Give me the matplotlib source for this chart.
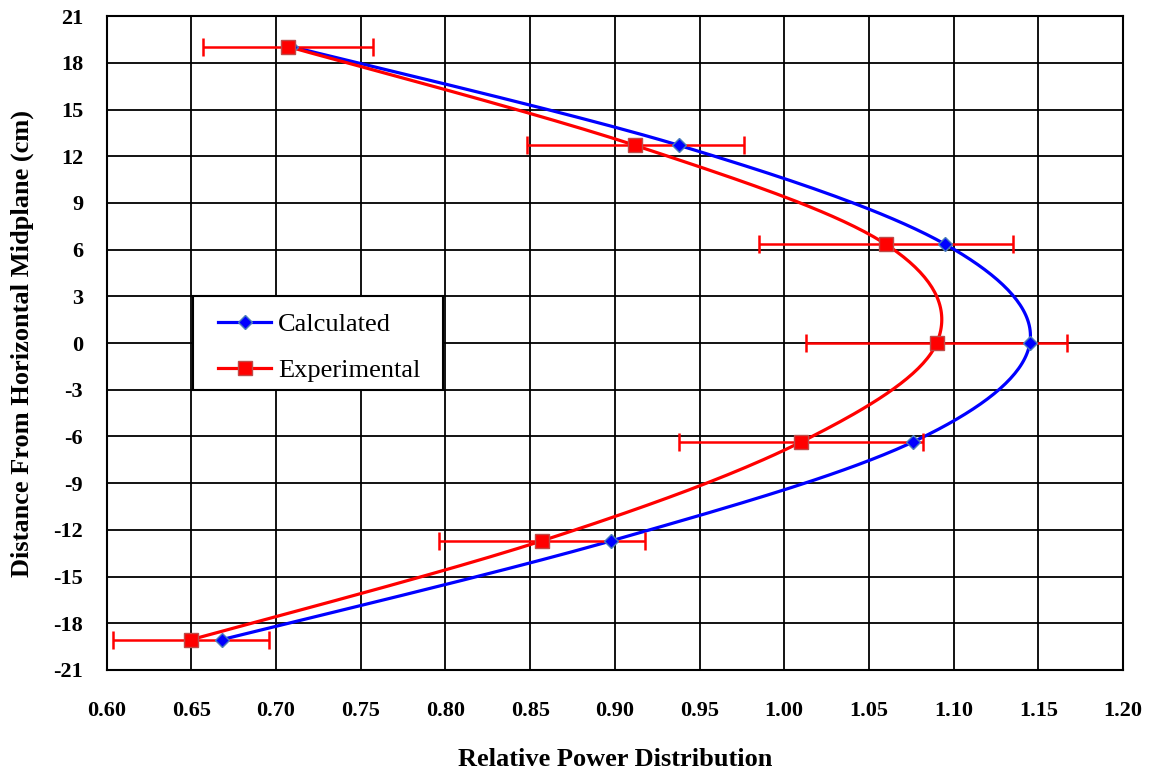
import matplotlib
matplotlib.use("Agg")
import matplotlib.pyplot as plt
from matplotlib.patches import Rectangle
import numpy as np

# data
height = [19.05, 12.7, 6.35, 0.0, -6.35, -12.7, -19.05]
calculated = [0.709, 0.938, 1.095, 1.145, 1.076, 0.898, 0.668]
experimental = [0.707, 0.912, 1.060, 1.090, 1.010, 0.857, 0.650]
exp_err = [0.050, 0.064, 0.075, 0.077, 0.072, 0.061, 0.046]

x_ticks = [0.60, 0.65, 0.70, 0.75, 0.80, 0.85, 0.90, 0.95, 1.00, 1.05, 1.10, 1.15, 1.20]
y_ticks = list(range(-21, 22, 3))

plt.rcParams['font.family'] = ['Liberation Serif', 'DejaVu Serif']
plt.rcParams['axes.unicode_minus'] = False


# Excel-style smoothed line (uniform Catmull-Rom / Bezier through the points)
def smooth(xs, ys, n=40):
    p = np.column_stack([xs, ys])
    pts = np.vstack([p[0], p, p[-1]])
    out = []
    for i in range(1, len(pts) - 2):
        p0, p1, p2, p3 = pts[i - 1], pts[i], pts[i + 1], pts[i + 2]
        c1 = p1 + (p2 - p0) / 6.0
        c2 = p2 - (p3 - p1) / 6.0
        t = np.linspace(0, 1, n)[:, None]
        seg = ((1 - t) ** 3) * p1 + 3 * ((1 - t) ** 2) * t * c1 + 3 * (1 - t) * t ** 2 * c2 + t ** 3 * p2
        out.append(seg)
    out = np.vstack(out)
    return out[:, 0], out[:, 1]


fig = plt.figure(figsize=(11.53, 7.71), dpi=100)
ax = fig.add_axes([0.0925, 0.131, 0.8815, 0.848])

cx, cy = smooth(calculated, height)
ex, ey = smooth(experimental, height)

ax.plot(cx, cy, color='#0000ff', lw=2.3, zorder=3)
ax.plot(ex, ey, color='#ff0000', lw=2.3, zorder=3)
ax.errorbar(experimental, height, xerr=exp_err, fmt='none', ecolor='#ff0000',
            elinewidth=1.8, capsize=6.5, capthick=1.8, zorder=4)
ax.plot(calculated, height, ls='none', marker='D', ms=7.5, mfc='#0000ff',
        mec='#4a7ebb', mew=1.0, zorder=5)
ax.plot(experimental, height, ls='none', marker='s', ms=9.5, mfc='#ff0000',
        mec='#be4b48', mew=1.0, zorder=5)

# legend handles, frame drawn separately
h1, = ax.plot([], [], color='#0000ff', lw=2.3, marker='D', ms=7.5, mfc='#0000ff',
              mec='#4a7ebb', mew=1.0)
h2, = ax.plot([], [], color='#ff0000', lw=2.3, marker='s', ms=9.5, mfc='#ff0000',
              mec='#be4b48', mew=1.0)
ax.legend([h1, h2], ['Calculated', 'Experimental'], loc='upper left',
          bbox_to_anchor=(0.084, 0.587), fontsize=19, frameon=False,
          handlelength=2.0, labelspacing=0.85, borderpad=0.5,
          handletextpad=0.25)
ax.add_patch(Rectangle((0.085, 0.428), 0.246, 0.144, transform=ax.transAxes,
                       facecolor='white', edgecolor='black', lw=1.5, zorder=6))
ax.get_legend().set_zorder(7)

ax.set_xlim(0.60, 1.20)
ax.set_ylim(-21, 21)
ax.set_xticks(x_ticks)
ax.set_yticks(y_ticks)
ax.set_xticklabels([f'{v:.2f}' for v in x_ticks])
ax.grid(True, color='black', lw=1.3)
ax.set_axisbelow(True)
for s in ax.spines.values():
    s.set_linewidth(1.5)
ax.tick_params(length=0, labelsize=16)
ax.tick_params(axis='x', pad=22)
ax.tick_params(axis='y', pad=17)
for lbl in ax.get_xticklabels() + ax.get_yticklabels():
    lbl.set_fontweight('bold')

ax.set_xlabel('Relative Power Distribution', fontsize=19, fontweight='bold', labelpad=20)
ax.set_ylabel('Distance From Horizontal Midplane (cm)', fontsize=19, fontweight='bold', labelpad=14)

fig.savefig('out.png', dpi=100)
